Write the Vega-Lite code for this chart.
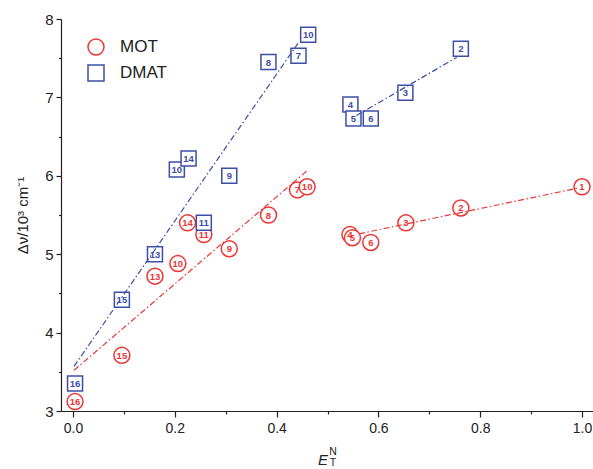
{
  "$schema": "https://vega.github.io/schema/vega-lite/v6.json",
  "width": 532,
  "height": 392,
  "autosize": {"type": "none"},
  "padding": {"left": 61, "top": 19, "right": 0, "bottom": 58},
  "background": "white",
  "title": {
    "text": "N",
    "subtitle": "T",
    "orient": "bottom",
    "anchor": "middle",
    "dx": 6,
    "offset": -20,
    "font": "Liberation Sans",
    "fontSize": 10.5,
    "fontWeight": "normal",
    "color": "#222222",
    "subtitleFont": "Liberation Sans",
    "subtitleFontSize": 10.5,
    "subtitleColor": "#222222",
    "subtitlePadding": 0
  },
  "config": {
    "view": {"stroke": null},
    "axis": {
      "grid": false,
      "domainColor": "#222222",
      "domainWidth": 1.2,
      "tickColor": "#222222",
      "tickWidth": 1.2,
      "labelFont": "Liberation Sans",
      "labelColor": "#222222",
      "titleFont": "Liberation Sans",
      "titleColor": "#222222",
      "titleFontWeight": "normal"
    },
    "legend": {
      "orient": "none",
      "legendX": 26,
      "legendY": 19,
      "title": null,
      "padding": 0,
      "labelFont": "Liberation Sans",
      "labelFontSize": 17,
      "labelColor": "#222222",
      "labelOffset": 15,
      "symbolSize": 256,
      "symbolStrokeWidth": 1.5,
      "rowPadding": 4
    }
  },
  "datasets": {
    "pts": [
      {"series": "MOT", "lab": "1", "x": 1.0, "y": 5.86},
      {"series": "MOT", "lab": "2", "x": 0.762, "y": 5.59},
      {"series": "MOT", "lab": "3", "x": 0.654, "y": 5.40},
      {"series": "MOT", "lab": "4", "x": 0.544, "y": 5.25},
      {"series": "MOT", "lab": "5", "x": 0.549, "y": 5.21},
      {"series": "MOT", "lab": "6", "x": 0.585, "y": 5.15},
      {"series": "MOT", "lab": "7", "x": 0.441, "y": 5.82},
      {"series": "MOT", "lab": "8", "x": 0.384, "y": 5.50},
      {"series": "MOT", "lab": "9", "x": 0.307, "y": 5.07},
      {"series": "MOT", "lab": "10", "x": 0.46, "y": 5.86},
      {"series": "MOT", "lab": "10", "x": 0.206, "y": 4.88},
      {"series": "MOT", "lab": "11", "x": 0.257, "y": 5.25},
      {"series": "MOT", "lab": "13", "x": 0.161, "y": 4.72},
      {"series": "MOT", "lab": "14", "x": 0.225, "y": 5.40},
      {"series": "MOT", "lab": "15", "x": 0.096, "y": 3.71},
      {"series": "MOT", "lab": "16", "x": 0.004, "y": 3.12},
      {"series": "DMAT", "lab": "2", "x": 0.762, "y": 7.62},
      {"series": "DMAT", "lab": "3", "x": 0.653, "y": 7.06},
      {"series": "DMAT", "lab": "4", "x": 0.545, "y": 6.91},
      {"series": "DMAT", "lab": "5", "x": 0.551, "y": 6.73},
      {"series": "DMAT", "lab": "6", "x": 0.585, "y": 6.73},
      {"series": "DMAT", "lab": "7", "x": 0.443, "y": 7.53},
      {"series": "DMAT", "lab": "8", "x": 0.384, "y": 7.45},
      {"series": "DMAT", "lab": "9", "x": 0.307, "y": 6.00},
      {"series": "DMAT", "lab": "10", "x": 0.462, "y": 7.80},
      {"series": "DMAT", "lab": "10", "x": 0.204, "y": 6.08},
      {"series": "DMAT", "lab": "11", "x": 0.257, "y": 5.40},
      {"series": "DMAT", "lab": "13", "x": 0.161, "y": 5.00},
      {"series": "DMAT", "lab": "14", "x": 0.227, "y": 6.22},
      {"series": "DMAT", "lab": "15", "x": 0.096, "y": 4.42},
      {"series": "DMAT", "lab": "16", "x": 0.004, "y": 3.35}
    ],
    "fits": [
      {"series": "MOT", "seg": "a", "x": 0.002, "y": 3.52},
      {"series": "MOT", "seg": "a", "x": 0.459, "y": 6.06},
      {"series": "MOT", "seg": "b", "x": 0.562, "y": 5.26},
      {"series": "MOT", "seg": "b", "x": 0.99, "y": 5.84},
      {"series": "DMAT", "seg": "a", "x": 0.002, "y": 3.57},
      {"series": "DMAT", "seg": "a", "x": 0.442, "y": 7.69},
      {"series": "DMAT", "seg": "b", "x": 0.557, "y": 6.77},
      {"series": "DMAT", "seg": "b", "x": 0.754, "y": 7.51}
    ]
  },
  "encoding": {
    "x": {
      "field": "x",
      "type": "quantitative",
      "scale": {"domain": [-0.0236, 1.0216], "nice": false, "zero": false},
      "axis": {
        "title": "E",
        "titleFontStyle": "italic",
        "titleFontSize": 15,
        "titleX": 261.5,
        "titleY": 48,
        "titleAlign": "center",
        "titleBaseline": "middle",
        "values": [0, 0.1, 0.2, 0.3, 0.4, 0.5, 0.6, 0.7, 0.8, 0.9, 1.0],
        "labelExpr": "round(datum.value*10)%2==0 ? format(datum.value, '.1f') : ''",
        "labelFontSize": 14,
        "labelPadding": 4,
        "tickSize": {"condition": {"test": "round(datum.value*10)%2==0", "value": 6}, "value": 3}
      }
    },
    "y": {
      "field": "y",
      "type": "quantitative",
      "scale": {"domain": [3, 8], "nice": false, "zero": false},
      "axis": {
        "title": "Δν/10³ cm⁻¹",
        "titleFontSize": 15,
        "titlePadding": 14,
        "values": [3, 3.5, 4, 4.5, 5, 5.5, 6, 6.5, 7, 7.5, 8],
        "labelExpr": "datum.value%1==0 ? format(datum.value, 'd') : ''",
        "labelFontSize": 15,
        "labelPadding": 3,
        "tickSize": {"condition": {"test": "datum.value%1==0", "value": 5}, "value": 2.5}
      }
    }
  },
  "layer": [
    {
      "data": {"name": "pts"},
      "transform": [{"filter": "datum.series == 'MOT'"}],
      "mark": {"type": "point", "filled": false, "fill": "white", "fillOpacity": 1, "opacity": 1, "size": 256, "strokeWidth": 1.5},
      "encoding": {
        "color": {"field": "series", "type": "nominal", "sort": ["MOT", "DMAT"], "scale": {"domain": ["MOT", "DMAT"], "range": ["#ee3535", "#3d4ea6"]}},
        "shape": {"field": "series", "type": "nominal", "sort": ["MOT", "DMAT"], "scale": {"domain": ["MOT", "DMAT"], "range": ["circle", "square"]}}
      }
    },
    {
      "data": {"name": "pts"},
      "transform": [{"filter": "datum.series == 'DMAT'"}],
      "mark": {"type": "point", "filled": false, "fill": "white", "fillOpacity": 1, "opacity": 1, "size": 225, "strokeWidth": 1.5},
      "encoding": {
        "color": {"field": "series", "type": "nominal", "sort": ["MOT", "DMAT"], "scale": {"domain": ["MOT", "DMAT"], "range": ["#ee3535", "#3d4ea6"]}},
        "shape": {"field": "series", "type": "nominal", "sort": ["MOT", "DMAT"], "scale": {"domain": ["MOT", "DMAT"], "range": ["circle", "square"]}}
      }
    },
    {
      "data": {"name": "pts"},
      "transform": [{"filter": "datum.series == 'MOT'"}],
      "mark": {"type": "text", "font": "Liberation Sans", "fontSize": 9.5, "fontWeight": "bold", "color": "#ee3535", "align": "center", "baseline": "middle", "dy": 0.5},
      "encoding": {"text": {"field": "lab"}}
    },
    {
      "data": {"name": "pts"},
      "transform": [{"filter": "datum.series == 'DMAT'"}],
      "mark": {"type": "text", "font": "Liberation Sans", "fontSize": 9.5, "fontWeight": "bold", "color": "#3d4ea6", "align": "center", "baseline": "middle", "dy": 0.5},
      "encoding": {"text": {"field": "lab"}}
    },
    {
      "data": {"name": "fits"},
      "transform": [{"filter": "datum.series == 'MOT'"}],
      "mark": {"type": "line", "color": "#ee3535", "strokeWidth": 1.2, "strokeDash": [6, 2.5, 1.5, 2.5]},
      "encoding": {"detail": {"field": "seg"}}
    },
    {
      "data": {"name": "fits"},
      "transform": [{"filter": "datum.series == 'DMAT'"}],
      "mark": {"type": "line", "color": "#3d4ea6", "strokeWidth": 1.2, "strokeDash": [6, 2.5, 1.5, 2.5]},
      "encoding": {"detail": {"field": "seg"}}
    }
  ]
}
